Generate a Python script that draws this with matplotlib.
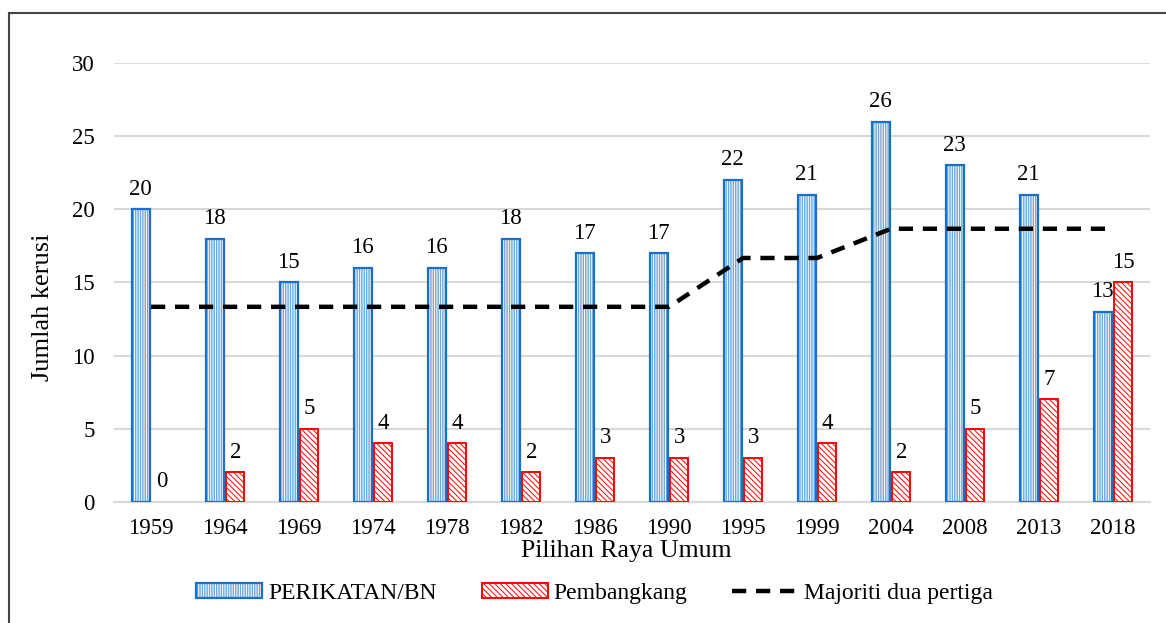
import matplotlib
matplotlib.use("Agg")
import matplotlib.pyplot as plt
import numpy as np
from matplotlib.patches import Patch
from matplotlib.lines import Line2D

years = ["1959", "1964", "1969", "1974", "1978", "1982", "1986", "1990",
         "1995", "1999", "2004", "2008", "2013", "2018"]
perikatan_bn = [20, 18, 15, 16, 16, 18, 17, 17, 22, 21, 26, 23, 21, 13]
pembangkang = [0, 2, 5, 4, 4, 2, 3, 3, 3, 4, 2, 5, 7, 15]
majoriti = [13.33, 13.33, 13.33, 13.33, 13.33, 13.33, 13.33, 13.33,
            16.67, 16.67, 18.67, 18.67, 18.67, 18.67]
yticks = [0, 5, 10, 15, 20, 25, 30]

plt.rcParams['font.family'] = ['Liberation Serif', 'DejaVu Serif']
plt.rcParams['hatch.linewidth'] = 0.7

BLUE = '#1a70c4'
LIGHT = '#6fa8dc'
RED = '#ff0000'
FS = 16.5

fig = plt.figure(figsize=(11.66, 6.23), dpi=100)
ax = fig.add_axes([0.0978, 0.1947, 0.9863 - 0.0978, 0.8987 - 0.1947])

x = np.arange(len(years))
w = 0.245
off = 0.14

# blue bars: light fill with white vertical stripes, blue outline
ax.bar(x - off, perikatan_bn, w, facecolor=LIGHT, edgecolor='white',
       hatch='|||||||', linewidth=0, zorder=3)
ax.bar(x - off, perikatan_bn, w, facecolor='none', edgecolor=BLUE,
       linewidth=1.6, zorder=4)
# red bars: white fill with red diagonal hatch
red_bars = ax.bar(x + off, pembangkang, w, facecolor='white', edgecolor=RED,
                  hatch='\\\\\\\\\\\\', linewidth=1.4, zorder=3)
for p, v in zip(red_bars, pembangkang):
    if v == 0:
        p.set_visible(False)

ax.plot(x, majoriti, color='black', linewidth=3.2,
        linestyle=(0, (3.2, 2.2)), zorder=5)

for xi, v in zip(x, perikatan_bn):
    ax.annotate(str(v), (xi - off, v), xytext=(0, 10.5), textcoords='offset points',
                ha='center', va='baseline', fontsize=FS)
for xi, v in zip(x, pembangkang):
    ax.annotate(str(v), (xi + off, v), xytext=(0, 10.5), textcoords='offset points',
                ha='center', va='baseline', fontsize=FS)

ax.set_xlim(-0.5, len(years) - 0.5)
ax.set_ylim(0, 30)
ax.set_yticks(yticks)
ax.set_xticks(x)
ax.set_xticklabels(years)
ax.tick_params(axis='both', length=0, labelsize=FS)
ax.tick_params(axis='y', pad=14)
ax.tick_params(axis='x', pad=12)
for s in ['top', 'right', 'left']:
    ax.spines[s].set_visible(False)
ax.spines['bottom'].set_color('#d9d9d9')
ax.spines['bottom'].set_linewidth(1.5)
ax.yaxis.grid(True, color='#d9d9d9', linewidth=1.5, zorder=0)
ax.set_axisbelow(True)

ax.set_xlabel('Pilihan Raya Umum', fontsize=18.5, labelpad=0)
ax.xaxis.set_label_coords(0.494, -0.088)
ax.xaxis.label.set_va('top')
ax.set_ylabel('Jumlah kerusi', fontsize=19)
ax.yaxis.set_label_coords(-0.058, 0.444)

h_blue = (Patch(facecolor=LIGHT, edgecolor='white', hatch='|||||||', linewidth=0),
          Patch(facecolor='none', edgecolor=BLUE, linewidth=1.6))
h_red = Patch(facecolor='white', edgecolor=RED, hatch='\\\\\\\\\\\\', linewidth=1.4)
h_line = Line2D([], [], color='black', linewidth=3.2, linestyle=(0, (3.2, 2.2)))
fig.legend([h_blue, h_red, h_line],
           ['PERIKATAN/BN', 'Pembangkang', 'Majoriti dua pertiga'],
           loc='center', bbox_to_anchor=(0.510, 0.048), ncol=3, frameon=False,
           fontsize=17, handlelength=2.8, handleheight=0.6, columnspacing=1.9,
           handletextpad=0.25)

# outer frame (top and left edges visible)
fig.add_artist(Line2D([9 / 1166, 1.0], [1 - 13 / 623, 1 - 13 / 623],
                      transform=fig.transFigure, color='#444444', linewidth=1.5))
fig.add_artist(Line2D([9 / 1166, 9 / 1166], [0, 1 - 13 / 623],
                      transform=fig.transFigure, color='#444444', linewidth=1.5))

fig.savefig('out.png', dpi=100)
